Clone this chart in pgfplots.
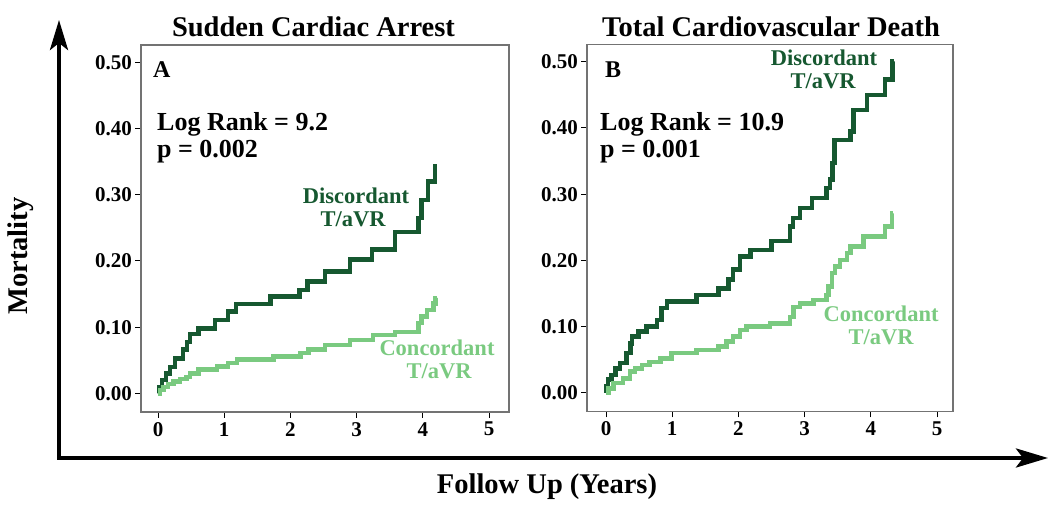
\documentclass[border=0pt]{standalone}
\usepackage{fontspec}
\setmainfont{Liberation Serif}
\usepackage{pgfplots}
\pgfplotsset{compat=1.18}
\usetikzlibrary{arrows.meta}
\definecolor{dkgreen}{RGB}{22,88,48}
\definecolor{ltgreen}{RGB}{122,202,128}
\newcommand\fs[1]{\fontsize{#1}{#1}\selectfont\bfseries}
\begin{document}
\begin{tikzpicture}[x=1pt,y=1pt]
\useasboundingbox (0,0) rectangle (1050,506);
\pgfplotsset{
  kmaxis/.style={
    anchor=south west, scale only axis,
    height=367pt,
    ymin=-0.028, ymax=0.526,
    axis line style={draw=black!55, line width=1.1pt},
    tick align=outside, major tick length=6pt,
    tick style={black, line width=1pt},
    xtick={0,1,2,3,4,5}, xticklabels={0,1,2,3,4,5},
    ytick={0,0.1,0.2,0.3,0.4,0.5},
    yticklabels={0.00,0.10,0.20,0.30,0.40,0.50},
    ticklabel style={font=\fs{21}},
    yticklabel style={inner sep=0pt, xshift=-3pt},
    xticklabel style={inner sep=0pt, yshift=-4pt},
    xtick pos=bottom, ytick pos=left,
    clip=true,
  },
  dk/.style={const plot, no marks, draw=dkgreen, line width=4.5pt},
  lt/.style={const plot, no marks, draw=ltgreen, line width=4.5pt},
}
% Panel A
\begin{axis}[kmaxis, at={(141pt,94pt)}, width=368pt, xmin=-0.257, xmax=5.30]
\addplot[dk] coordinates {
(0,0) (0.02,0.01) (0.06,0.02) (0.12,0.03) (0.18,0.04) (0.26,0.053)
(0.38,0.066) (0.44,0.078) (0.48,0.09) (0.61,0.098) (0.86,0.111)
(1.06,0.124) (1.18,0.135) (1.70,0.146) (2.14,0.156) (2.26,0.169)
(2.52,0.184) (2.90,0.202) (3.23,0.217) (3.58,0.244) (3.93,0.265)
(3.98,0.292) (4.08,0.32) (4.18,0.343) (4.21,0.343)};
\addplot[lt] coordinates {
(0,0) (0.03,0.005) (0.08,0.01) (0.15,0.014) (0.23,0.018) (0.33,0.022)
(0.43,0.025) (0.48,0.030) (0.61,0.036) (0.89,0.041) (1.06,0.046)
(1.19,0.051) (1.74,0.056) (2.15,0.061) (2.27,0.066) (2.52,0.073)
(2.90,0.081) (3.25,0.088) (3.58,0.093) (3.93,0.106) (3.98,0.116)
(4.06,0.126) (4.16,0.136) (4.19,0.144) (4.21,0.144)};
\end{axis}
% Panel B
\begin{axis}[kmaxis, at={(587pt,94.5pt)}, width=366pt, xmin=-0.287, xmax=5.24]
\addplot[dk] coordinates {
(0,0) (0.01,0.01) (0.03,0.02) (0.085,0.027) (0.14,0.037) (0.21,0.045)
(0.31,0.06) (0.37,0.075) (0.39,0.085) (0.49,0.093) (0.61,0.10)
(0.77,0.11) (0.84,0.128) (0.92,0.138) (1.37,0.148) (1.70,0.158)
(1.85,0.171) (1.92,0.186) (2.02,0.206) (2.18,0.216) (2.50,0.229)
(2.78,0.251) (2.82,0.264) (2.93,0.279) (3.11,0.294) (3.33,0.309)
(3.38,0.322) (3.42,0.347) (3.45,0.382) (3.69,0.395) (3.74,0.427)
(3.94,0.45) (4.21,0.473) (4.33,0.50) (4.34,0.50)};
\addplot[lt] coordinates {
(0,0) (0.035,0.007) (0.11,0.015) (0.26,0.022) (0.36,0.032) (0.44,0.037)
(0.54,0.042) (0.66,0.047) (0.82,0.052) (0.99,0.06) (1.37,0.065)
(1.70,0.07) (1.82,0.078) (1.92,0.085) (2.02,0.095) (2.12,0.10)
(2.48,0.105) (2.78,0.115) (2.83,0.13) (2.93,0.135) (3.13,0.14)
(3.33,0.148) (3.36,0.161) (3.41,0.181) (3.46,0.191) (3.53,0.201)
(3.64,0.211) (3.69,0.221) (3.89,0.236) (4.21,0.251) (4.32,0.271)
(4.34,0.271)};
\end{axis}
% big arrows
\draw[line width=4pt, -{Stealth[length=30pt,width=18pt,inset=7pt]}] (59,46) -- (59,486);
\draw[line width=4pt, -{Stealth[length=32pt,width=19pt,inset=7pt]}] (57,48) -- (1048,48);
% titles and labels
\node[anchor=base, font=\fs{28.5}, inner sep=0pt] at (313.5,469) {Sudden Cardiac Arrest};
\node[anchor=base, font=\fs{28.5}, inner sep=0pt] at (771,469) {Total Cardiovascular Death};
\node[rotate=90, anchor=center, font=\fs{28.5}, inner sep=0pt] at (21,250) {Mortality};
\node[anchor=base, font=\fs{28.5}, inner sep=0pt] at (547,12) {Follow Up (Years)};
% panel A texts
\node[anchor=base west, font=\fs{24}, inner sep=0pt] at (153,428) {A};
\node[anchor=base west, font=\fs{26}, inner sep=0pt] at (157,375) {Log Rank = 9.2};
\node[anchor=base west, font=\fs{26}, inner sep=0pt] at (157,348) {p = 0.002};
\node[anchor=base, font=\fs{22.5}, inner sep=0pt, text=dkgreen] at (356,302) {Discordant};
\node[anchor=base, font=\fs{22.5}, inner sep=0pt, text=dkgreen] at (353,279) {T/aVR};
\node[anchor=base, font=\fs{22.5}, inner sep=0pt, text=ltgreen] at (437,150) {Concordant};
\node[anchor=base, font=\fs{22.5}, inner sep=0pt, text=ltgreen] at (439,127.5) {T/aVR};
% panel B texts
\node[anchor=base west, font=\fs{24}, inner sep=0pt] at (605,428) {B};
\node[anchor=base west, font=\fs{26}, inner sep=0pt] at (600,375) {Log Rank = 10.9};
\node[anchor=base west, font=\fs{26}, inner sep=0pt] at (600,348) {p = 0.001};
\node[anchor=base, font=\fs{22.5}, inner sep=0pt, text=dkgreen] at (824,440) {Discordant};
\node[anchor=base, font=\fs{22.5}, inner sep=0pt, text=dkgreen] at (823,417) {T/aVR};
\node[anchor=base, font=\fs{22.5}, inner sep=0pt, text=ltgreen] at (881,184) {Concordant};
\node[anchor=base, font=\fs{22.5}, inner sep=0pt, text=ltgreen] at (881,161.5) {T/aVR};
\end{tikzpicture}
\end{document}
